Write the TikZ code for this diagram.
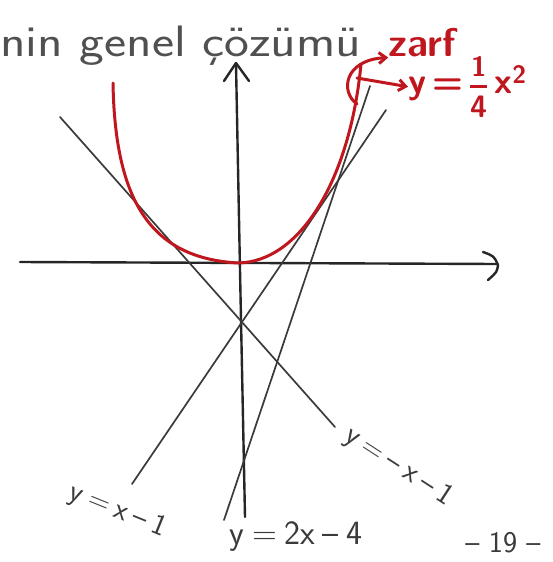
\documentclass[tikz,border=0pt]{standalone}
\usepackage{tikz}
\usepackage{xcolor}
\usepackage{amsmath}
\usetikzlibrary{arrows.meta}

\definecolor{kalem}{HTML}{3A3A3A}
\definecolor{yazi}{HTML}{505050}
\definecolor{zarfkirmizi}{HTML}{C0161E}

\newcommand{\ara}{\hspace{0.22em}}

\begin{document}
\begin{tikzpicture}[x=1pt, y=-1pt,
        eksen/.style={line width=2.4pt, color=black!85, line cap=round, line join=round},
        dogru/.style={line width=1.7pt, color=kalem, line cap=round},
        zarfcizgi/.style={line width=3pt, color=zarfkirmizi, line cap=round, line join=round},
        etiket/.style={color=kalem, inner sep=0pt, font=\sffamily\fontsize{30}{32}\selectfont}]
        % Sayfa sınırı
        \useasboundingbox (0,0) rectangle (552,562);

        % Başlık
        \node[color=yazi, anchor=base west, inner sep=0pt,
              font=\sffamily\fontsize{44}{48}\selectfont] (baslik) at (0,56) {\scalebox{1.2}[1]{nin genel çözümü}};

        % Eksenler
        \coordinate (xsol) at (20,262);
        \coordinate (xsag) at (497,264);
        \coordinate (yalt) at (245,517);
        \coordinate (yust) at (236,64);
        \draw[eksen] (xsol) -- (xsag);
        \draw[eksen] (483,252) .. controls (494,256) .. (498,265) .. controls (497,272) .. (488,280);
        \draw[eksen] (yalt) -- (240,270) -- (yust);
        \draw[eksen] (224,81) -- (236,63) -- (249,81);

        % Teğet doğrular
        \coordinate (d1a) at (60,117);
        \coordinate (d1b) at (335,427);
        \draw[dogru] (d1a) -- (d1b);
        \coordinate (d2a) at (132,484);
        \coordinate (d2b) at (386,110);
        \draw[dogru] (d2a) -- (d2b);
        \coordinate (d3a) at (224,520);
        \coordinate (d3b) at (370,86);
        \draw[dogru] (d3a) -- (d3b);

        % Zarf: parabol
        \coordinate (tepe) at (238,263);
        \draw[zarfcizgi] (113,83) .. controls (115,200) and (150,258) .. (tepe)
            .. controls (300,262) and (350,180) .. (361,64);

        % Kırmızı yazılar
        \node[color=zarfkirmizi, inner sep=0pt,
              font=\bfseries\sffamily\fontsize{40}{42}\selectfont] (zarf) at (422,43) {zarf};
        \node[color=zarfkirmizi, inner sep=0pt, anchor=base west,
              font=\bfseries\sffamily\fontsize{36}{40}\selectfont] (denklem) at (408,93)
              {y\,=\,$\genfrac{}{}{2.6pt}{0}{\text{\fontsize{28}{28}\selectfont 1}}{\text{\fontsize{31}{31}\selectfont 4}}$\,x\textsuperscript{2}};
        \draw[zarfcizgi, -{Straight Barb[length=7pt, width=11pt]}]
            (357,104) .. controls (340,92) and (344,60) .. (zarf.south west);
        \draw[zarfcizgi, -{Straight Barb[length=7pt, width=11pt]}] (357,78) -- (denklem.west);

        % Doğru etiketleri
        \node[etiket, rotate=-22] (e1) at (118,511) {y\ara=\ara x\ara\textendash\ara 1};
        \node[etiket, rotate=-33] (e2) at (399,467) {y\ara=\ara\textendash\ara x\ara\textendash\ara 1};
        \node[etiket, font=\sffamily\fontsize{34}{36}\selectfont] (e3) at (296,537) {y\ara=\ara 2x\ara\textendash\ara 4};
        \node[etiket] (sayfa) at (503,543) {\textendash\ 19 \textendash};
    \end{tikzpicture}
\end{document}
